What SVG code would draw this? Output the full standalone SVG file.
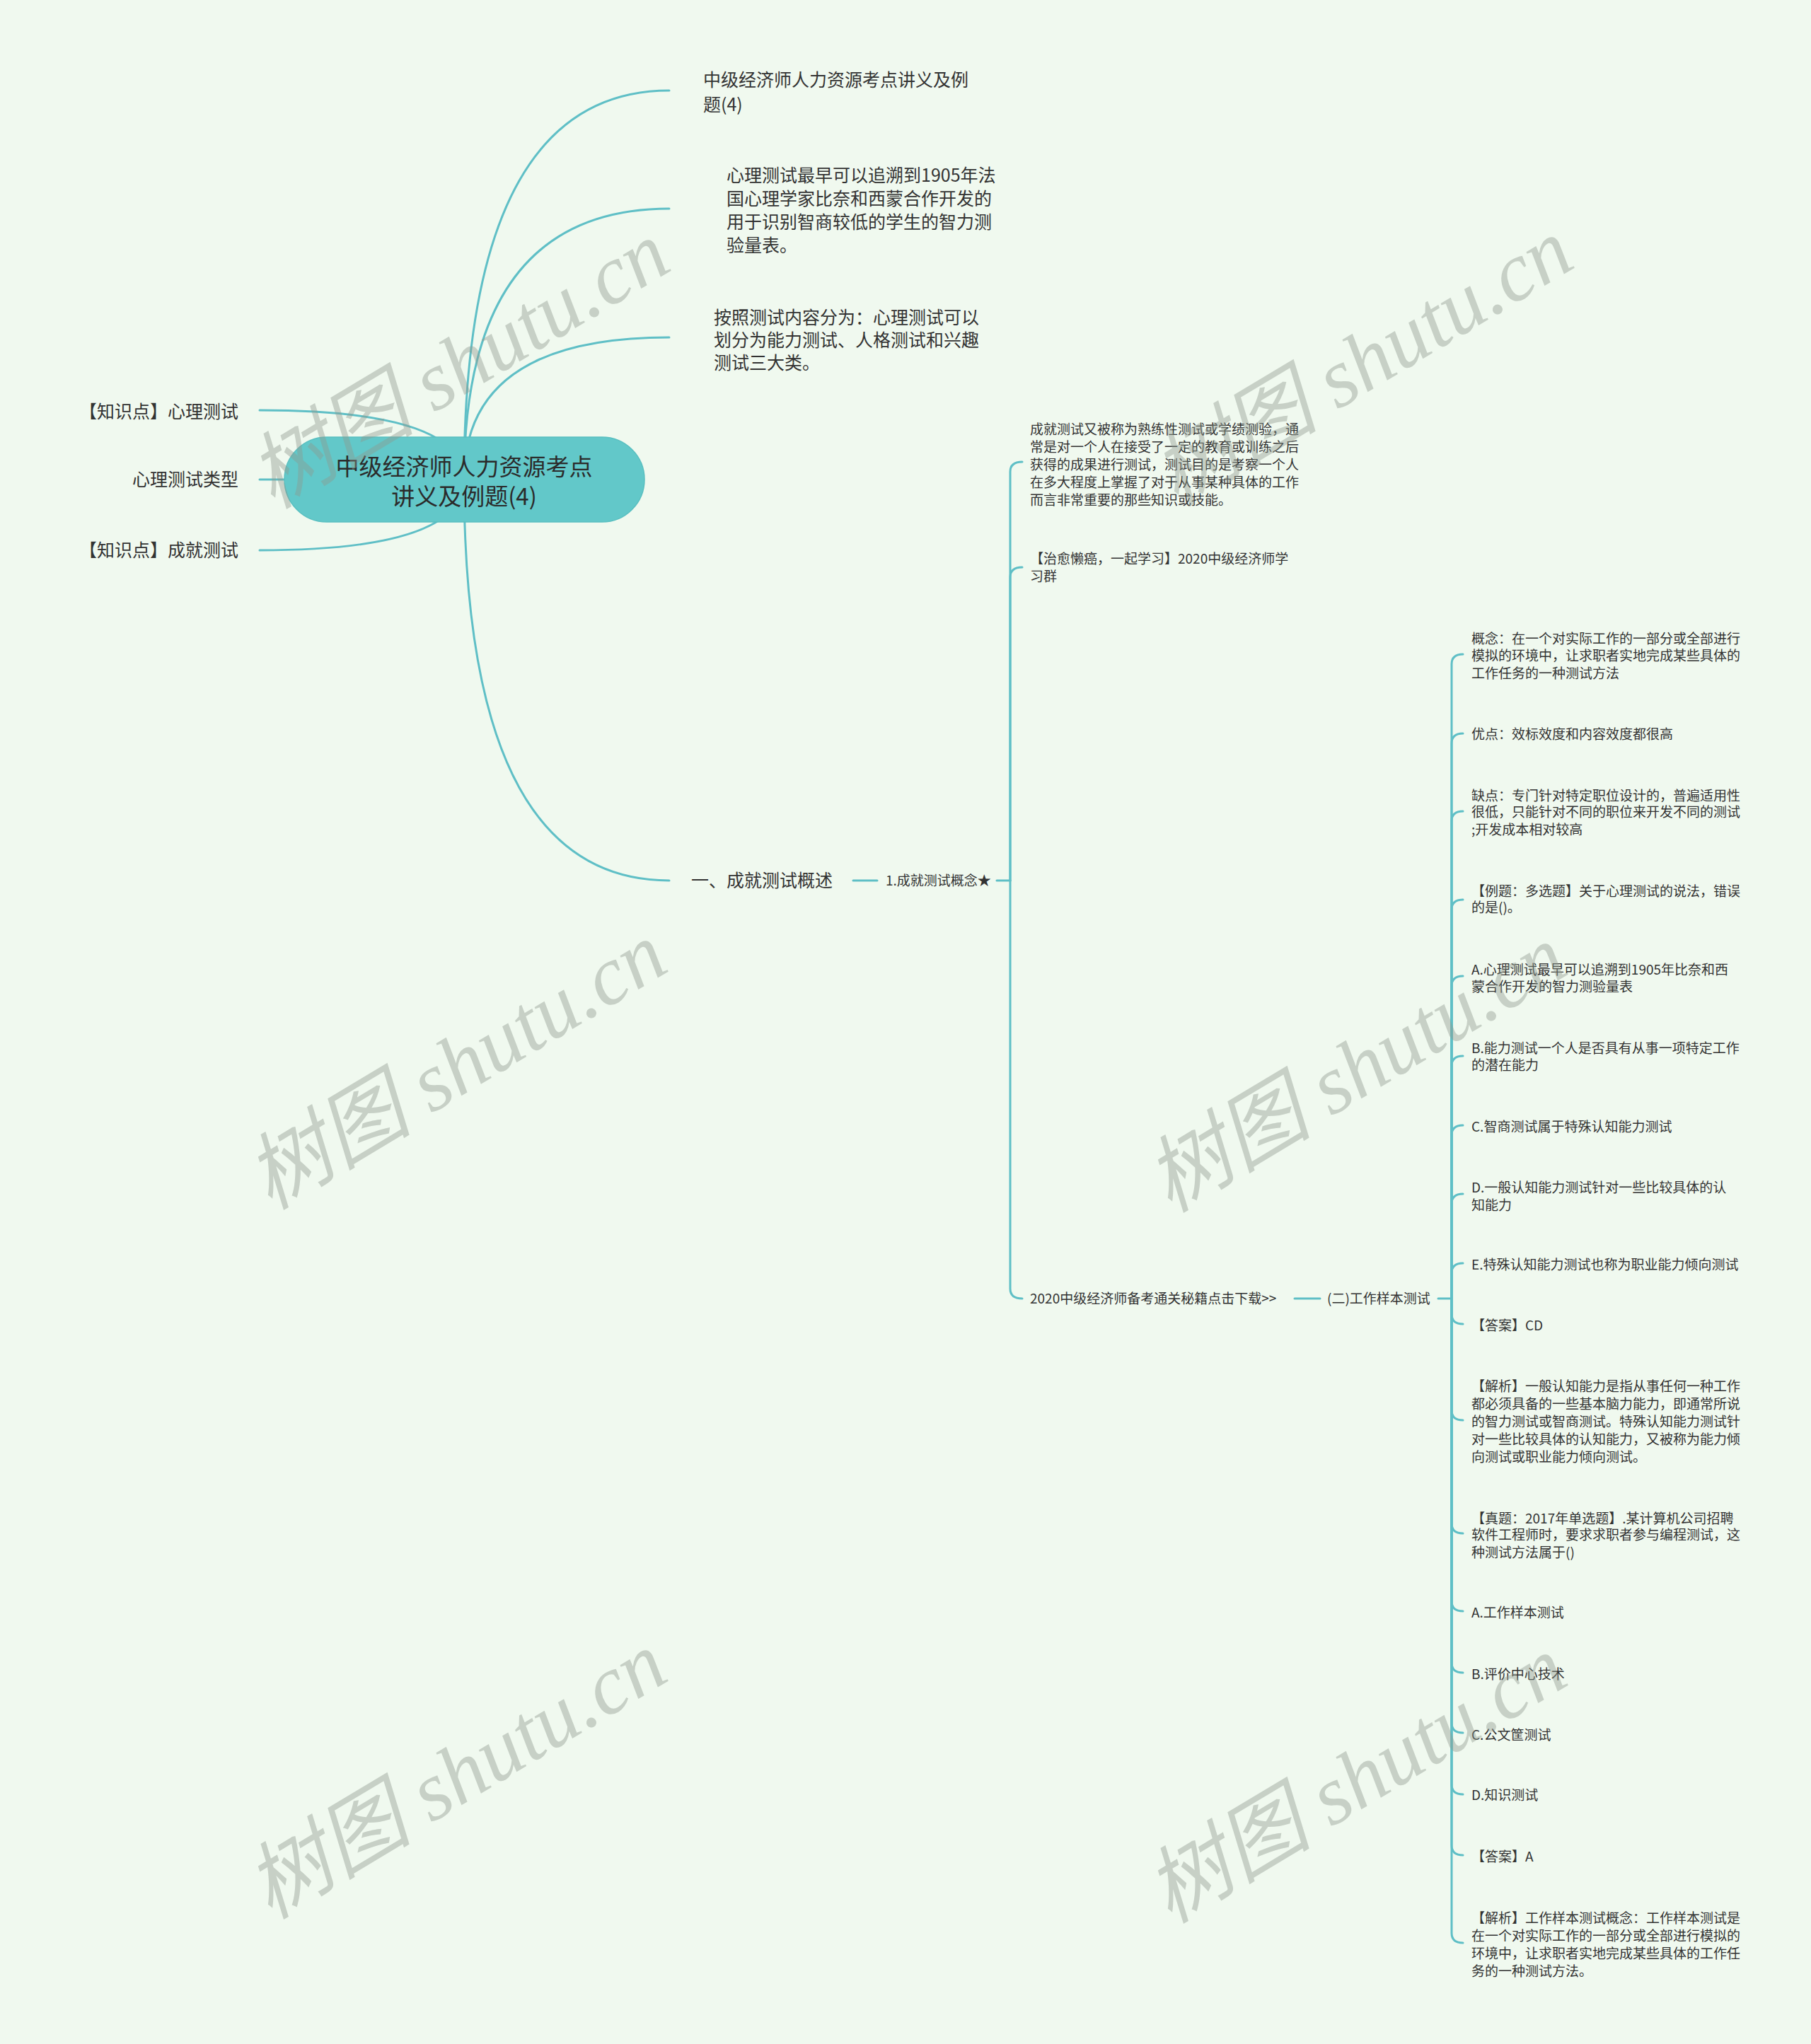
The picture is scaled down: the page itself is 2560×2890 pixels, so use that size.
<svg xmlns="http://www.w3.org/2000/svg" width="2560" height="2890" viewBox="0 0 2560 2890">
<style>
.bg{fill:#f0f9ef}
.ln{fill:none;stroke:#5fbfc6;stroke-width:3;stroke-linecap:round}
.t{font-family:"Noto Sans CJK SC","Liberation Sans",sans-serif;fill:#333333}
.s19{font-size:19px}
.s25{font-size:25px}
.root{fill:#62c8c9;stroke:#58bfc0;stroke-width:1.5}
.rt{font-family:"Noto Sans CJK SC","Liberation Sans",sans-serif;font-size:33px;fill:#2b2b2b;text-anchor:middle}
.wm{font-family:"Liberation Serif","Noto Sans CJK SC",serif;font-style:italic;font-size:118px;fill:#8f9a8f;opacity:0.42;text-anchor:middle}
</style>
<rect class="bg" x="0" y="0" width="2560" height="2890"/>

<g id="connectors">
  <path class="ln" d="M656 678 Q656 128 946 128"/>
  <path class="ln" d="M656 678 Q656 295 946 295"/>
  <path class="ln" d="M656 678 Q656 477 946 477"/>
  <path class="ln" d="M656 678 Q656 1245 946 1245"/>
  <path class="ln" d="M656 678 Q656 580 367 580"/>
  <path class="ln" d="M656 678 L367 678"/>
  <path class="ln" d="M656 678 Q656 778 367 778"/>
  <path class="ln" d="M1206 1245 L1240 1245"/>
  <path class="ln" d="M1409 1245 L1428 1245"/>
  <path class="ln" d="M1428 1245 V667 Q1428 653 1445 653"/>
  <path class="ln" d="M1428 1245 V816 Q1428 802 1445 802"/>
  <path class="ln" d="M1428 1245 V1822 Q1428 1836 1445 1836"/>
  <path class="ln" d="M1830 1836 L1866 1836"/>
  <path class="ln" d="M2033 1836 L2052 1836"/>
  <path class="ln" d="M2052 1836 V939 Q2052 925 2068 925"/>
  <path class="ln" d="M2052 1836 V1051 Q2052 1037 2068 1037"/>
  <path class="ln" d="M2052 1836 V1161 Q2052 1147 2068 1147"/>
  <path class="ln" d="M2052 1836 V1286 Q2052 1272 2068 1272"/>
  <path class="ln" d="M2052 1836 V1394 Q2052 1380 2068 1380"/>
  <path class="ln" d="M2052 1836 V1507 Q2052 1493 2068 1493"/>
  <path class="ln" d="M2052 1836 V1605 Q2052 1591 2068 1591"/>
  <path class="ln" d="M2052 1836 V1702 Q2052 1688 2068 1688"/>
  <path class="ln" d="M2052 1836 V1800 Q2052 1786 2068 1786"/>
  <path class="ln" d="M2052 1836 V1858 Q2052 1872 2068 1872"/>
  <path class="ln" d="M2052 1836 V1994 Q2052 2008 2068 2008"/>
  <path class="ln" d="M2052 1836 V2154 Q2052 2168 2068 2168"/>
  <path class="ln" d="M2052 1836 V2264 Q2052 2278 2068 2278"/>
  <path class="ln" d="M2052 1836 V2351 Q2052 2365 2068 2365"/>
  <path class="ln" d="M2052 1836 V2436 Q2052 2450 2068 2450"/>
  <path class="ln" d="M2052 1836 V2523 Q2052 2537 2068 2537"/>
  <path class="ln" d="M2052 1836 V2609 Q2052 2623 2068 2623"/>
  <path class="ln" d="M2052 1836 V2733 Q2052 2747 2068 2747"/>
</g>

<g id="root">
  <rect class="root" x="402" y="618" width="509" height="120" rx="60" ry="60"/>
  <text class="rt" x="656" y="672">中级经济师人力资源考点</text>
  <text class="rt" x="656" y="714">讲义及例题(4)</text>
</g>

<g id="n-title">
  <text class="t s25" x="994" y="122">中级经济师人力资源考点讲义及例</text>
  <text class="t s25" x="994" y="157">题(4)</text>
</g>
<g id="n-history">
  <text class="t s25" x="1027" y="257">心理测试最早可以追溯到1905年法</text>
  <text class="t s25" x="1027" y="290">国心理学家比奈和西蒙合作开发的</text>
  <text class="t s25" x="1027" y="323">用于识别智商较低的学生的智力测</text>
  <text class="t s25" x="1027" y="356">验量表。</text>
</g>
<g id="n-types">
  <text class="t s25" x="1009" y="458">按照测试内容分为：心理测试可以</text>
  <text class="t s25" x="1009" y="490">划分为能力测试、人格测试和兴趣</text>
  <text class="t s25" x="1009" y="522">测试三大类。</text>
</g>

<g id="n-left1"><text class="t s25" x="337" y="591" text-anchor="end">【知识点】心理测试</text></g>
<g id="n-left2"><text class="t s25" x="337" y="687" text-anchor="end">心理测试类型</text></g>
<g id="n-left3"><text class="t s25" x="337" y="787" text-anchor="end">【知识点】成就测试</text></g>

<g id="n-overview"><text class="t s25" x="977" y="1254">一、成就测试概述</text></g>
<g id="n-concept"><text class="t s19" x="1252" y="1252">1.成就测试概念★</text></g>

<g id="n-def">
  <text class="t s19" x="1456" y="614">成就测试又被称为熟练性测试或学绩测验，通</text>
  <text class="t s19" x="1456" y="639">常是对一个人在接受了一定的教育或训练之后</text>
  <text class="t s19" x="1456" y="664">获得的成果进行测试，测试目的是考察一个人</text>
  <text class="t s19" x="1456" y="689">在多大程度上掌握了对于从事某种具体的工作</text>
  <text class="t s19" x="1456" y="714">而言非常重要的那些知识或技能。</text>
</g>
<g id="n-group">
  <text class="t s19" x="1456" y="797">【治愈懒癌，一起学习】2020中级经济师学</text>
  <text class="t s19" x="1456" y="822">习群</text>
</g>
<g id="n-download"><text class="t s19" x="1456" y="1843">2020中级经济师备考通关秘籍点击下载&gt;&gt;</text></g>
<g id="n-worksample"><text class="t s19" x="1876" y="1843">(二)工作样本测试</text></g>

<g id="r1">
  <text class="t s19" x="2080" y="910">概念：在一个对实际工作的一部分或全部进行</text>
  <text class="t s19" x="2080" y="934">模拟的环境中，让求职者实地完成某些具体的</text>
  <text class="t s19" x="2080" y="959">工作任务的一种测试方法</text>
</g>
<g id="r2"><text class="t s19" x="2080" y="1045">优点：效标效度和内容效度都很高</text></g>
<g id="r3">
  <text class="t s19" x="2080" y="1132">缺点：专门针对特定职位设计的，普遍适用性</text>
  <text class="t s19" x="2080" y="1155">很低，只能针对不同的职位来开发不同的测试</text>
  <text class="t s19" x="2080" y="1180">;开发成本相对较高</text>
</g>
<g id="r4">
  <text class="t s19" x="2080" y="1267">【例题：多选题】关于心理测试的说法，错误</text>
  <text class="t s19" x="2080" y="1290">的是()。</text>
</g>
<g id="r5">
  <text class="t s19" x="2080" y="1378">A.心理测试最早可以追溯到1905年比奈和西</text>
  <text class="t s19" x="2080" y="1402">蒙合作开发的智力测验量表</text>
</g>
<g id="r6">
  <text class="t s19" x="2080" y="1489">B.能力测试一个人是否具有从事一项特定工作</text>
  <text class="t s19" x="2080" y="1513">的潜在能力</text>
</g>
<g id="r7"><text class="t s19" x="2080" y="1600">C.智商测试属于特殊认知能力测试</text></g>
<g id="r8">
  <text class="t s19" x="2080" y="1686">D.一般认知能力测试针对一些比较具体的认</text>
  <text class="t s19" x="2080" y="1711">知能力</text>
</g>
<g id="r9"><text class="t s19" x="2080" y="1795">E.特殊认知能力测试也称为职业能力倾向测试</text></g>
<g id="r10"><text class="t s19" x="2080" y="1881">【答案】CD</text></g>
<g id="r11">
  <text class="t s19" x="2080" y="1967">【解析】一般认知能力是指从事任何一种工作</text>
  <text class="t s19" x="2080" y="1992">都必须具备的一些基本脑力能力，即通常所说</text>
  <text class="t s19" x="2080" y="2017">的智力测试或智商测试。特殊认知能力测试针</text>
  <text class="t s19" x="2080" y="2042">对一些比较具体的认知能力，又被称为能力倾</text>
  <text class="t s19" x="2080" y="2067">向测试或职业能力倾向测试。</text>
</g>
<g id="r12">
  <text class="t s19" x="2080" y="2154">【真题：2017年单选题】.某计算机公司招聘</text>
  <text class="t s19" x="2080" y="2177">软件工程师时，要求求职者参与编程测试，这</text>
  <text class="t s19" x="2080" y="2202">种测试方法属于()</text>
</g>
<g id="r13"><text class="t s19" x="2080" y="2287">A.工作样本测试</text></g>
<g id="r14"><text class="t s19" x="2080" y="2374">B.评价中心技术</text></g>
<g id="r15"><text class="t s19" x="2080" y="2460">C.公文筐测试</text></g>
<g id="r16"><text class="t s19" x="2080" y="2545">D.知识测试</text></g>
<g id="r17"><text class="t s19" x="2080" y="2632">【答案】A</text></g>
<g id="r18">
  <text class="t s19" x="2080" y="2719">【解析】工作样本测试概念：工作样本测试是</text>
  <text class="t s19" x="2080" y="2744">在一个对实际工作的一部分或全部进行模拟的</text>
  <text class="t s19" x="2080" y="2769">环境中，让求职者实地完成某些具体的工作任</text>
  <text class="t s19" x="2080" y="2794">务的一种测试方法。</text>
</g>

<g id="watermarks">
  <text class="wm" transform="translate(649 516) rotate(-31)" x="0" y="40">树图 shutu.cn</text>
  <text class="wm" transform="translate(1926 512) rotate(-31)" x="0" y="40">树图 shutu.cn</text>
  <text class="wm" transform="translate(645 1507) rotate(-31)" x="0" y="40">树图 shutu.cn</text>
  <text class="wm" transform="translate(1917 1511) rotate(-31)" x="0" y="40">树图 shutu.cn</text>
  <text class="wm" transform="translate(645 2510) rotate(-31)" x="0" y="40">树图 shutu.cn</text>
  <text class="wm" transform="translate(1917 2516) rotate(-31)" x="0" y="40">树图 shutu.cn</text>
</g>
</svg>
